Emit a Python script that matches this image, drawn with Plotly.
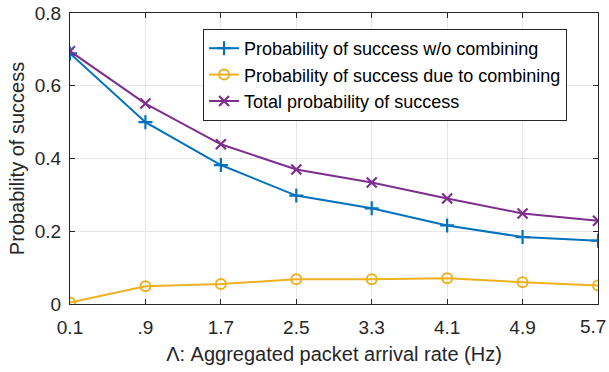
import plotly.graph_objects as go

x_vals = [0.1, 0.9, 1.7, 2.5, 3.3, 4.1, 4.9, 5.7]
x_tick_text = ["0.1", ".9", "1.7", "2.5", "3.3", "4.1", "4.9", "5.7"]
p_without = [0.689, 0.500, 0.382, 0.298, 0.263, 0.216, 0.184, 0.174]
p_combining = [0.004, 0.049, 0.055, 0.068, 0.068, 0.071, 0.060, 0.051]
p_total = [0.695, 0.551, 0.439, 0.370, 0.334, 0.290, 0.249, 0.229]
y_ticks = [0, 0.2, 0.4, 0.6, 0.8]
y_tick_text = ["0", "0.2", "0.4", "0.6", "0.8"]

font_family = "Liberation Sans, Arial, sans-serif"
tick_font = dict(family=font_family, size=19, color="#262626")

fig = go.Figure()
fig.add_trace(go.Scatter(
    x=x_vals, y=p_without, mode="lines+markers",
    name="Probability of success w/o combining",
    line=dict(color="#0072BD", width=2),
    marker=dict(symbol="cross-thin-open", size=10, line=dict(color="#0072BD", width=2.2)),
))
fig.add_trace(go.Scatter(
    x=x_vals, y=p_combining, mode="lines+markers",
    name="Probability of success due to combining",
    line=dict(color="#EDB120", width=2),
    marker=dict(symbol="circle-open", size=10, line=dict(color="#EDB120", width=2)),
))
fig.add_trace(go.Scatter(
    x=x_vals, y=p_total, mode="lines+markers",
    name="Total probability of success",
    line=dict(color="#7E2F8E", width=2),
    marker=dict(symbol="x-thin-open", size=10, line=dict(color="#7E2F8E", width=2.2)),
))

axis_common = dict(
    showline=True, linecolor="#262626", linewidth=1, mirror="ticks",
    ticks="inside", ticklen=5, tickcolor="#262626",
    showgrid=True, gridcolor="#E6E6E6", gridwidth=1,
    zeroline=False,
    tickfont=tick_font,
)

# last x tick label is drawn as an annotation nudged left so it stays inside the page
shown_x_text = x_tick_text[:-1] + [""]

fig.update_xaxes(
    range=[0.1, 5.7], tickvals=x_vals, ticktext=shown_x_text,
    ticklabelstandoff=6,
    title=dict(text="Λ: Aggregated packet arrival rate (Hz)",
               font=dict(family=font_family, size=20, color="#262626"), standoff=10),
    **axis_common,
)
fig.update_yaxes(
    range=[0, 0.8], tickvals=y_ticks, ticktext=y_tick_text,
    ticklabelstandoff=4,
    title=dict(text="Probability of success",
               font=dict(family=font_family, size=20, color="#262626"), standoff=4),
    **axis_common,
)

fig.add_annotation(
    x=x_vals[-1], y=0, xref="x", yref="y",
    text=x_tick_text[-1], showarrow=False,
    xanchor="center", yanchor="top", xshift=-5, yshift=-11,
    font=tick_font, borderpad=0,
)

fig.update_layout(
    width=609, height=372,
    margin=dict(l=70, r=11, t=13, b=68, autoexpand=False),
    paper_bgcolor="white", plot_bgcolor="white",
    showlegend=True,
    legend=dict(
        x=0.252, y=0.945, xanchor="left", yanchor="top",
        bgcolor="white", bordercolor="#262626", borderwidth=1,
        font=dict(family=font_family, size=18, color="black"),
        itemwidth=30,
    ),
)

fig.write_html("out.html", config={"displayModeBar": False},
               post_script="document.body.style.margin='0';")
